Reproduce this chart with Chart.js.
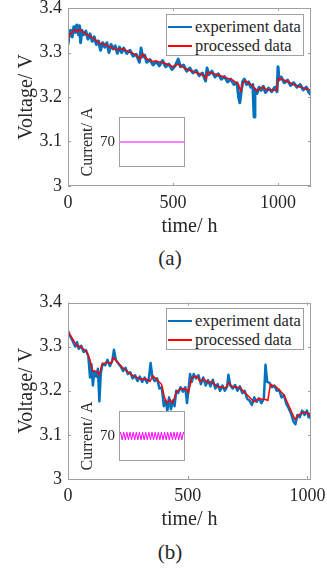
<!DOCTYPE html>
<html>
<head>
<meta charset="utf-8">
<script src="https://cdn.jsdelivr.net/npm/chart.js@4.4.0/dist/chart.umd.min.js"></script>
<style>
  body { margin: 0; background: #fff; }
  #page { position: relative; width: 327px; height: 572px; overflow: hidden; font-family: 'Liberation Serif', serif; color: #262626; }
  .wrap { position: absolute; }
  .legend { position: absolute; left: 166px; width: 136px; height: 40px; border: 1px solid #a0a0a0; background: #fff; font-size: 16.5px; }
  .legend .row { position: absolute; left: 0; height: 20px; line-height: 20px; white-space: nowrap; }
  .legend .swatch { position: absolute; left: 1px; top: 9px; width: 24px; height: 0; border-top: 2px solid; }
  .legend .text { position: absolute; left: 28px; top: 0; }
  .caption { position: absolute; left: 130px; width: 80px; text-align: center; font-size: 21px; line-height: 24px; }
</style>
</head>
<body>
<div id="page">
  <div class="wrap" style="left:0;top:0;width:327px;height:240px"><canvas id="mainA"></canvas></div>
  <div class="wrap" style="left:76px;top:95px;width:115px;height:90px"><canvas id="insetA"></canvas></div>
  <div class="legend" id="legendA" style="top:14px"></div>
  <div class="caption" style="top:246px">(a)</div>

  <div class="wrap" style="left:0;top:293px;width:327px;height:240px"><canvas id="mainB"></canvas></div>
  <div class="wrap" style="left:76px;top:389px;width:115px;height:90px"><canvas id="insetB"></canvas></div>
  <div class="legend" id="legendB" style="top:308px"></div>
  <div class="caption" style="top:540px">(b)</div>
</div>
<script>
// (a) experiment data
const timeExpA = [
  0, 5, 12, 20, 28, 35, 42, 50, 55, 60,
  66, 75, 85, 95, 105, 115, 125, 135, 145, 155,
  165, 175, 185, 195, 205, 215, 225, 235, 245, 255,
  265, 280, 295, 310, 325, 340, 348, 355, 365, 375,
  390, 405, 420, 435, 450, 465, 480, 495, 510, 525,
  535, 550, 565, 580, 595, 610, 625, 640, 655, 662,
  670, 685, 700, 715, 730, 745, 760, 775, 790, 805,
  812, 818, 824, 832, 840, 850, 860, 870, 880, 886,
  890, 900, 910, 920, 930, 940, 955, 970, 985, 995,
  1000, 1005, 1015, 1030, 1045, 1060, 1075, 1090, 1105, 1120,
  1135, 1145, 1155
];
const voltExpA = [
  3.318, 3.340, 3.350, 3.335, 3.358, 3.345, 3.362, 3.340, 3.360, 3.322,
  3.350, 3.340, 3.348, 3.330, 3.342, 3.325, 3.335, 3.318, 3.326, 3.305,
  3.322, 3.312, 3.322, 3.300, 3.318, 3.308, 3.315, 3.298, 3.312, 3.300,
  3.310, 3.298, 3.305, 3.292, 3.296, 3.278, 3.310, 3.290, 3.294, 3.278,
  3.284, 3.272, 3.280, 3.270, 3.282, 3.268, 3.274, 3.262, 3.270, 3.285,
  3.268, 3.272, 3.258, 3.265, 3.254, 3.260, 3.248, 3.254, 3.236, 3.265,
  3.250, 3.258, 3.245, 3.252, 3.240, 3.246, 3.234, 3.240, 3.228, 3.232,
  3.200, 3.187, 3.210, 3.235, 3.240, 3.228, 3.234, 3.222, 3.228, 3.155,
  3.218, 3.208, 3.222, 3.215, 3.224, 3.210, 3.220, 3.212, 3.222, 3.212,
  3.268, 3.238, 3.245, 3.232, 3.238, 3.226, 3.232, 3.222, 3.228, 3.216,
  3.222, 3.212, 3.205
];
// (a) processed data
const timeProcA = [
  0, 5, 20, 35, 45, 55, 80, 100, 120, 150,
  175, 200, 230, 260, 290, 310, 335, 343, 355, 375,
  400, 450, 500, 524, 560, 600, 643, 658, 665, 720,
  785, 812, 822, 833, 845, 880, 898, 930, 946, 995,
  1002, 1040, 1087, 1120, 1155
];
const voltProcA = [
  3.317, 3.339, 3.345, 3.352, 3.346, 3.352, 3.343, 3.338, 3.332, 3.321,
  3.318, 3.313, 3.306, 3.308, 3.302, 3.298, 3.290, 3.285, 3.297, 3.286,
  3.281, 3.278, 3.268, 3.274, 3.263, 3.256, 3.250, 3.241, 3.256, 3.249,
  3.238, 3.228, 3.212, 3.232, 3.236, 3.225, 3.214, 3.222, 3.216, 3.216,
  3.242, 3.236, 3.225, 3.220, 3.216
];
// (b) experiment data
const timeExpB = [
  0, 8, 15, 22, 30, 38, 45, 55, 65, 75,
  85, 92, 98, 104, 110, 118, 125, 131, 137, 145,
  155, 165, 175, 185, 192, 200, 210, 220, 230, 240,
  250, 260, 270, 280, 290, 300, 310, 320, 330, 338,
  345, 352, 362, 372, 382, 392, 400, 408, 415, 422,
  430, 438, 445, 452, 460, 470, 480, 490, 497, 503,
  510, 517, 525, 535, 545, 555, 565, 575, 585, 595,
  605, 615, 625, 635, 645, 655, 665, 670, 678, 688,
  698, 708, 718, 728, 738, 748, 758, 768, 778, 788,
  798, 808, 818, 825, 832, 842, 852, 862, 872, 882,
  892, 902, 912, 922, 932, 942, 950, 958, 968, 978,
  988, 998, 1005, 1010, 1015
];
const voltExpB = [
  3.336, 3.325, 3.318, 3.310, 3.300, 3.310, 3.295, 3.302, 3.288, 3.292,
  3.278, 3.230, 3.260, 3.212, 3.245, 3.232, 3.250, 3.176, 3.240, 3.262,
  3.258, 3.270, 3.256, 3.268, 3.293, 3.270, 3.262, 3.255, 3.245, 3.252,
  3.238, 3.242, 3.228, 3.235, 3.222, 3.232, 3.220, 3.230, 3.218, 3.228,
  3.263, 3.232, 3.222, 3.228, 3.205, 3.208, 3.165, 3.178, 3.154, 3.185,
  3.158, 3.178, 3.165, 3.200, 3.195, 3.208, 3.198, 3.208, 3.172, 3.200,
  3.238, 3.220, 3.238, 3.228, 3.235, 3.215, 3.230, 3.212, 3.224, 3.210,
  3.225, 3.205, 3.215, 3.200, 3.212, 3.200, 3.210, 3.236, 3.212, 3.205,
  3.213, 3.200, 3.210, 3.195, 3.200, 3.182, 3.178, 3.168, 3.185, 3.175,
  3.183, 3.172, 3.182, 3.259, 3.220, 3.218, 3.208, 3.212, 3.200, 3.202,
  3.185, 3.190, 3.170, 3.160, 3.148, 3.130, 3.124, 3.145, 3.140, 3.155,
  3.145, 3.155, 3.140, 3.148, 3.135
];
// (b) processed data
const timeProcB = [
  0, 22, 39, 50, 77, 92, 103, 120, 131, 141,
  162, 180, 190, 206, 231, 266, 301, 329, 343, 354,
  370, 391, 402, 412, 426, 437, 454, 475, 496, 503,
  517, 538, 552, 566, 587, 601, 622, 657, 671, 685,
  720, 755, 776, 797, 825, 835, 845, 867, 902, 930,
  948, 965, 986, 1000, 1014
];
const voltProcB = [
  3.334, 3.315, 3.300, 3.301, 3.289, 3.270, 3.244, 3.243, 3.236, 3.259,
  3.265, 3.262, 3.275, 3.265, 3.251, 3.236, 3.227, 3.226, 3.221, 3.234,
  3.226, 3.214, 3.187, 3.172, 3.180, 3.172, 3.199, 3.205, 3.203, 3.195,
  3.229, 3.233, 3.221, 3.227, 3.218, 3.221, 3.210, 3.206, 3.218, 3.210,
  3.206, 3.187, 3.175, 3.182, 3.180, 3.178, 3.214, 3.210, 3.191, 3.157,
  3.135, 3.146, 3.152, 3.150, 3.142
];
// inset current profiles
const currentA = [70, 70];
const currentB = [
  70, 71.5, 68.5, 71.5, 68.5, 71.5, 68.5, 71.5, 68.5, 71.5,
  68.5, 71.5, 68.5, 71.5, 68.5, 71.5, 68.5, 71.5, 68.5, 71.5,
  68.5, 71.5, 68.5, 71.5, 68.5, 71.5, 68.5, 71.5, 68.5, 71.5,
  68.5, 71.5, 68.5, 71.5, 68.5, 71.5, 68.5, 71.5, 68.5, 71.5,
  68.5, 71.5, 70
];

// ticks
const voltTicks = [3, 3.1, 3.2, 3.3, 3.4];
const voltTickLabels = ['3', '3.1', '3.2', '3.3', '3.4'];
const timeTicks = [0, 500, 1000];
const currentTicks = [70];
const seriesLabels = ['experiment data', 'processed data'];

const FONT = 'Liberation Serif';
const TEXT = '#262626';
const AXIS = '#a0a0a0';

// box around plot area + inward ticks (matlab style)
const boxTicks = {
  id: 'boxTicks',
  beforeDatasetsDraw(chart, args, opts) {
    if (!opts.fill) return;
    const a = chart.chartArea;
    chart.ctx.save();
    chart.ctx.fillStyle = opts.fill;
    chart.ctx.fillRect(a.left, a.top, a.width, a.height);
    chart.ctx.restore();
  },
  afterDatasetsDraw(chart, args, opts) {
    const { ctx, chartArea: a, scales } = chart;
    ctx.save();
    ctx.strokeStyle = opts.color;
    ctx.lineWidth = 1;
    ctx.strokeRect(Math.round(a.left) + 0.5, Math.round(a.top) + 0.5, Math.round(a.width) - 1, Math.round(a.height) - 1);
    const len = opts.len || 0;
    if (len > 0) {
      ctx.beginPath();
      if (scales.x.options.display !== false) {
        scales.x.ticks.forEach(t => {
          const px = Math.round(scales.x.getPixelForValue(t.value)) + 0.5;
          ctx.moveTo(px, a.bottom); ctx.lineTo(px, a.bottom - len);
          ctx.moveTo(px, a.top); ctx.lineTo(px, a.top + len);
        });
      }
      scales.y.ticks.forEach(t => {
        const py = Math.round(scales.y.getPixelForValue(t.value)) + 0.5;
        ctx.moveTo(a.left, py); ctx.lineTo(a.left + len, py);
        ctx.moveTo(a.right, py); ctx.lineTo(a.right - len, py);
      });
      ctx.stroke();
    }
    ctx.restore();
  }
};

function pairs(xs, ys) {
  return xs.map((x, i) => ({ x: x, y: ys[i] }));
}

// keep the layout from padding for the edge tick labels
function noEdgePad(s) {
  s.paddingTop = 0; s.paddingBottom = 0; s.paddingLeft = 0; s.paddingRight = 0;
}

function mainChart(id, timeExp, voltExp, timeProc, voltProc, xMax, padTop, bandWidth, legendId) {
  const chart = new Chart(document.getElementById(id), {
    type: 'line',
    data: {
      datasets: [
        // order: red drawn over the blue band
        { label: seriesLabels[0], data: pairs(timeExp, voltExp), order: 1, borderColor: '#0072bd', borderWidth: bandWidth, borderJoinStyle: 'round', pointRadius: 0, tension: 0 },
        { label: seriesLabels[1], data: pairs(timeProc, voltProc), order: 0, borderColor: '#ff0000', borderWidth: 1.5, borderJoinStyle: 'round', pointRadius: 0, tension: 0 }
      ]
    },
    options: {
      responsive: true,
      maintainAspectRatio: false,
      animation: false,
      events: [],
      layout: { padding: { top: padTop, right: 16, left: 0, bottom: 0 } },
      plugins: {
        legend: { display: false },
        tooltip: { enabled: false },
        boxTicks: { color: AXIS, len: 3 }
      },
      scales: {
        x: {
          type: 'linear', min: 0, max: xMax,
          grid: { display: false, drawTicks: false },
          border: { display: false },
          afterBuildTicks: s => { s.ticks = timeTicks.map(v => ({ value: v })); },
          afterFit: s => { s.height = 54; noEdgePad(s); },
          ticks: { padding: 6, autoSkip: false, maxRotation: 0, color: TEXT, font: { family: FONT, size: 18 }, callback: v => String(v) },
          title: { display: true, text: 'time/ h', color: TEXT, font: { family: FONT, size: 20 }, padding: { top: 0, bottom: 1 } }
        },
        y: {
          type: 'linear', min: 3, max: 3.4,
          grid: { display: false, drawTicks: false },
          border: { display: false },
          afterBuildTicks: s => { s.ticks = voltTicks.map(v => ({ value: v })); },
          afterFit: s => { s.width = 68; noEdgePad(s); },
          ticks: { padding: 6, color: TEXT, font: { family: FONT, size: 18 }, callback: (v, i) => voltTickLabels[i] },
          title: { display: true, text: 'Voltage/ V', color: TEXT, font: { family: FONT, size: 20 }, padding: { top: 15, bottom: 0 } }
        }
      }
    },
    plugins: [boxTicks]
  });

  // html legend from the datasets
  const box = document.getElementById(legendId);
  chart.data.datasets.forEach((ds, i) => {
    const row = document.createElement('div');
    row.className = 'row';
    row.style.top = (2 + i * 19) + 'px';
    row.innerHTML = `<span class="swatch" style="border-color:${ds.borderColor}"></span><span class="text">${ds.label}</span>`;
    box.appendChild(row);
  });
  return chart;
}

function insetChart(id, current) {
  return new Chart(document.getElementById(id), {
    type: 'line',
    data: {
      labels: current.map((_, i) => i),
      datasets: [{ data: current, borderColor: '#ff00ff', borderWidth: 1, borderJoinStyle: 'round', pointRadius: 0, tension: 0 }]
    },
    options: {
      responsive: true,
      maintainAspectRatio: false,
      animation: false,
      events: [],
      layout: { padding: { top: 22, right: 6, bottom: 18, left: 0 } },
      plugins: {
        legend: { display: false },
        tooltip: { enabled: false },
        boxTicks: { color: AXIS, len: 0, fill: '#fff' }
      },
      scales: {
        x: { display: false, offset: false },
        y: {
          type: 'linear', min: 60, max: 80,
          grid: { display: false, drawTicks: false },
          border: { display: false },
          afterBuildTicks: s => { s.ticks = currentTicks.map(v => ({ value: v })); },
          afterFit: s => { s.width = 43; noEdgePad(s); },
          ticks: { padding: 4, color: TEXT, font: { family: FONT, size: 15 }, callback: v => String(v) },
          title: { display: true, text: 'Current/ A', color: TEXT, font: { family: FONT, size: 16 }, padding: { top: 2, bottom: 0 } }
        }
      }
    },
    plugins: [boxTicks]
  });
}

mainChart('mainA', timeExpA, voltExpA, timeProcA, voltProcA, 1157, 8, 3, 'legendA');
mainChart('mainB', timeExpB, voltExpB, timeProcB, voltProcB, 1015, 9.5, 2.5, 'legendB');
insetChart('insetA', currentA);
insetChart('insetB', currentB);
</script>
</body>
</html>
